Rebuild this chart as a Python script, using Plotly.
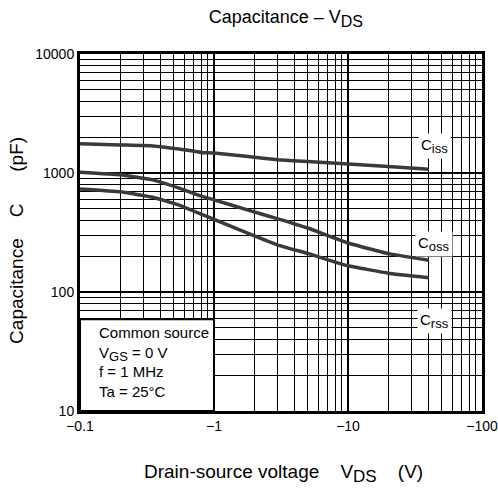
import math
import plotly.graph_objects as go

# Drain-source voltage magnitude |VDS| (V) and capacitances (pF)
vds = [0.1, 0.2, 0.35, 0.55, 0.8, 1.0, 1.8, 3.0, 5.0, 10.0, 20.0, 40.0]
ciss = [1760, 1720, 1690, 1590, 1490, 1470, 1375, 1290, 1250, 1190, 1135, 1075]
coss = [1015, 965, 875, 745, 640, 595, 487, 412, 345, 258, 210, 185]
crss = [735, 695, 625, 538, 452, 408, 311, 248, 211, 166, 144, 132]

# Curve labels: (name, subscript, |VDS|, C)
curve_labels = [
    ("C", "iss", 44, 1690),
    ("C", "oss", 44, 253),
    ("C", "rss", 44, 57),
]

x_tickvals = [0.1, 1, 10, 100]
x_ticktext = ["\u22120.1", "\u22121", "\u221210", "\u2212100"]
y_tickvals = [10, 100, 1000, 10000]
y_ticktext = ["10", "100", "1000", "10000"]

FONT = "Liberation Sans, Arial, sans-serif"
CURVE = "#3a3a3a"


def sub(text, px):
    """Subscript drawn close to full size."""
    return f"<sub><span style='font-size:{px}px'>{text}</span></sub>"


x_minor = [k * d for d in (0.1, 1, 10) for k in range(2, 10)]
y_minor = [k * d for d in (10, 100, 1000) for k in range(2, 10)]

fig = go.Figure()
for name, vals in (("Ciss", ciss), ("Coss", coss), ("Crss", crss)):
    fig.add_trace(go.Scatter(
        x=vds, y=vals, mode="lines", name=name,
        line=dict(color=CURVE, width=3.5, shape="spline", smoothing=0.3),
        showlegend=False,
    ))

for base, s, xv, yv in curve_labels:
    fig.add_annotation(
        x=math.log10(xv), y=math.log10(yv), xref="x", yref="y",
        text=base + sub(s, 13), showarrow=False, bgcolor="white",
        font=dict(family=FONT, size=15, color="black"), borderpad=2,
    )

# Measurement-condition box in the lower-left corner
fig.add_shape(type="rect", xref="paper", yref="paper",
              x0=0, x1=1 / 3, y0=0, y1=0.257,
              fillcolor="white", line=dict(color="black", width=2), layer="above")
fig.add_annotation(
    xref="paper", yref="paper", x=0.042, y=0.248, xanchor="left", yanchor="top",
    align="left", showarrow=False,
    text="Common source<br>V" + sub("GS", 13) + " = 0 V<br>f = 1 MHz<br>Ta = 25\u00b0C",
    font=dict(family=FONT, size=15, color="black"),
)

nb = "\u00a0"
fig.add_annotation(
    xref="paper", yref="paper", x=0.507, y=-0.175, xanchor="center", yanchor="middle",
    showarrow=False,
    text="Drain-source voltage" + nb * 4 + "V" + sub("DS", 17) + nb * 4 + "(V)",
    font=dict(family=FONT, size=19, color="black"),
)
fig.add_annotation(
    xref="paper", yref="paper", x=-0.157, y=0.479, xanchor="center", yanchor="middle",
    showarrow=False, textangle=-90,
    text="Capacitance" + nb * 4 + "C" + nb * 6 + "(pF)",
    font=dict(family=FONT, size=19, color="black"),
)

axis_common = dict(
    type="log", showline=True, mirror=True, linecolor="black", linewidth=3,
    showgrid=True, gridcolor="black", gridwidth=2, zeroline=False, ticks="",
    automargin=False,
    tickfont=dict(family=FONT, size=14, color="black"),
)

fig.update_xaxes(
    **axis_common, range=[-1, 2], tickmode="array",
    tickvals=x_tickvals, ticktext=x_ticktext,
    minor=dict(tickmode="array", tickvals=x_minor, showgrid=True,
               gridcolor="black", gridwidth=1, ticks=""),
)
fig.update_yaxes(
    **axis_common, range=[1, 4], tickmode="array",
    tickvals=y_tickvals, ticktext=y_ticktext,
    minor=dict(tickmode="array", tickvals=y_minor, showgrid=True,
               gridcolor="black", gridwidth=1, ticks=""),
)

fig.update_layout(
    width=498, height=489,
    margin=dict(l=80, r=16, t=54, b=78, autoexpand=False),
    paper_bgcolor="white", plot_bgcolor="white",
    title=dict(text="Capacitance \u2013 V" + sub("DS", 16), x=0.574, xanchor="center",
               y=0.965, yanchor="middle",
               font=dict(family=FONT, size=18, color="black")),
)

fig.write_html("out.html")
